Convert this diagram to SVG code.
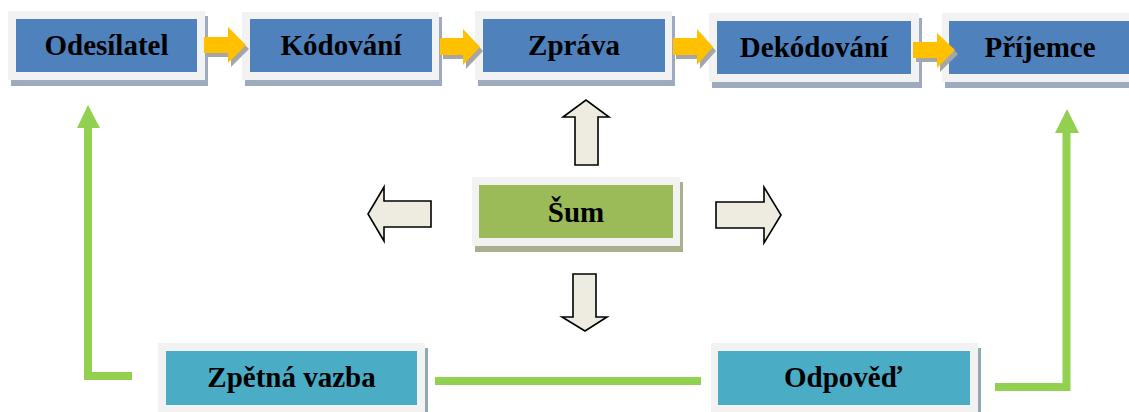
<svg xmlns="http://www.w3.org/2000/svg" width="1129" height="412" viewBox="0 0 1129 412">
  <style>
    .frame { fill: #f2f2f2; }
    .shadow-blue { fill: #9eabbf; }
    .shadow-green { fill: #a9b08e; }
    .shadow-cyan { fill: #90a9b3; }
    .blue { fill: #4f81bd; }
    .green { fill: #9bbb59; }
    .cyan { fill: #4bacc6; }
    .label { font-family: "Liberation Serif", "Times New Roman", serif; font-weight: bold; font-size: 29px; fill: #000; text-anchor: middle; }
    .flow { fill: #ffc000; }
    .flow-shadow { fill: #a6a6a6; }
    .noise { fill: #eeece1; stroke: #000; stroke-width: 1.6; stroke-linejoin: miter; }
    .feedback { fill: none; stroke: #92d050; stroke-width: 8; stroke-linecap: butt; stroke-linejoin: miter; }
    .feedback-head { fill: #92d050; }
  </style>

  <rect width="1129" height="412" fill="#ffffff"/>

  <!-- top row -->
  <g id="odesilatel">
    <rect class="shadow-blue" x="11" y="16" width="197" height="70"/>
    <rect class="frame" x="8" y="11" width="197" height="69"/>
    <rect class="blue" x="16" y="19" width="181" height="53"/>
    <text class="label" x="106.5" y="55">Odesílatel</text>
  </g>
  <g id="kodovani">
    <rect class="shadow-blue" x="245" y="17" width="197" height="69"/>
    <rect class="frame" x="242" y="12" width="197" height="68"/>
    <rect class="blue" x="250" y="19" width="182" height="53"/>
    <text class="label" x="341" y="55">Kódování</text>
  </g>
  <g id="zprava">
    <rect class="shadow-blue" x="478" y="16" width="197" height="70"/>
    <rect class="frame" x="475" y="11" width="197" height="69"/>
    <rect class="blue" x="483" y="19" width="182" height="53"/>
    <text class="label" x="574" y="55">Zpráva</text>
  </g>
  <g id="dekodovani">
    <rect class="shadow-blue" x="712" y="18" width="210" height="70"/>
    <rect class="frame" x="709" y="13" width="210" height="69"/>
    <rect class="blue" x="717" y="21" width="194" height="53"/>
    <text class="label" x="814" y="57">Dekódování</text>
  </g>
  <g id="prijemce">
    <rect class="shadow-blue" x="945" y="18" width="200" height="70"/>
    <rect class="frame" x="942" y="13" width="200" height="69"/>
    <rect class="blue" x="949" y="21" width="180" height="53"/>
    <text class="label" x="1040" y="57">Příjemce</text>
  </g>

  <!-- centre -->
  <g id="sum">
    <rect class="shadow-green" x="475" y="182" width="208" height="70"/>
    <rect class="frame" x="472" y="177" width="208" height="69"/>
    <rect class="green" x="479" y="185" width="194" height="53"/>
    <text class="label" x="576" y="222">Šum</text>
  </g>

  <!-- bottom row -->
  <g id="zpetna-vazba">
    <rect class="shadow-cyan" x="161" y="348" width="267" height="70"/>
    <rect class="frame" x="158" y="343" width="267" height="75"/>
    <rect class="cyan" x="166" y="351" width="251" height="54"/>
    <text class="label" x="291.5" y="387">Zpětná vazba</text>
  </g>
  <g id="odpoved">
    <rect class="shadow-cyan" x="714" y="348" width="267" height="70"/>
    <rect class="frame" x="711" y="343" width="267" height="75"/>
    <rect class="cyan" x="718" y="351" width="252" height="54"/>
    <text class="label" x="843" y="387">Odpověď</text>
  </g>

  <g id="connectors">
    <!-- flow arrows between the top boxes -->
    <g transform="translate(3,4)">
      <path class="flow-shadow" d="M204 37 H228 V27 L246 45 L228 63 V53 H204 Z"/>
      <path class="flow-shadow" d="M440 38 H463 V29 L480 47 L463 65 V55 H440 Z"/>
      <path class="flow-shadow" d="M673 38 H697 V29 L713 47 L697 65 V55 H673 Z"/>
      <path class="flow-shadow" d="M913 42 H937 V33 L955 50 L937 68 V58 H913 Z"/>
    </g>
    <path class="flow" d="M204 37 H228 V27 L246 45 L228 63 V53 H204 Z"/>
    <path class="flow" d="M440 38 H463 V29 L480 47 L463 65 V55 H440 Z"/>
    <path class="flow" d="M673 38 H697 V29 L713 47 L697 65 V55 H673 Z"/>
    <path class="flow" d="M913 42 H937 V33 L955 50 L937 68 V58 H913 Z"/>

    <!-- noise arrows -->
    <path class="noise" d="M575 165 V117 H563 L586 100 L609 117 H598 V165 Z"/>
    <path class="noise" d="M431 201 H384 V187 L368 214 L384 241 V227 H431 Z"/>
    <path class="noise" d="M716 202 H764 V187 L781 215 L764 243 V228 H716 Z"/>
    <path class="noise" d="M573 274 V317 H562 L585 331 L607 317 H596 V274 Z"/>

    <!-- feedback loop -->
    <polyline class="feedback" points="132,376 88,376 88,126"/>
    <path class="feedback-head" d="M77 128 L88 105 L100 128 Z"/>
    <line class="feedback" x1="435" y1="381" x2="701" y2="381"/>
    <polyline class="feedback" points="995,387 1066.5,387 1066.5,131"/>
    <path class="feedback-head" d="M1055 133 L1067 109 L1079 133 Z"/>
  </g>
</svg>
